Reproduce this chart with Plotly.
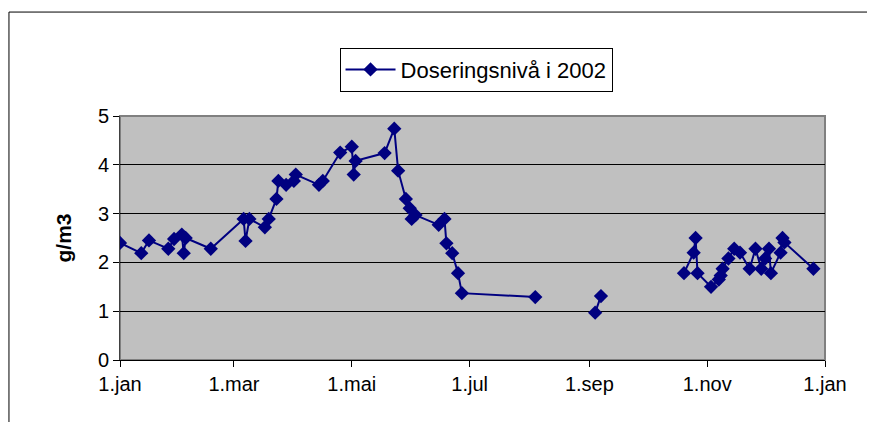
import plotly.graph_objects as go

# Dates of measurements (None rows break the line)
dates = [
    "2002-01-01", "2002-01-12", "2002-01-16", "2002-01-26", "2002-01-29",
    "2002-02-02", "2002-02-03", "2002-02-04", "2002-02-17",
    "2002-03-06", "2002-03-07", "2002-03-09", "2002-03-17", "2002-03-19",
    "2002-03-23", "2002-03-24", "2002-03-28", "2002-04-01", "2002-04-02",
    "2002-04-14", "2002-04-16", "2002-04-25", "2002-05-01", "2002-05-02",
    "2002-05-03", "2002-05-18", "2002-05-23", "2002-05-25", "2002-05-29",
    "2002-05-31", "2002-06-01", "2002-06-03", "2002-06-15", "2002-06-18",
    "2002-06-19", "2002-06-22", "2002-06-25", "2002-06-27", "2002-08-04",
    "2002-08-20",
    "2002-09-04", "2002-09-07",
    "2002-10-01",
    "2002-10-20", "2002-10-25", "2002-10-26", "2002-10-27", "2002-11-03",
    "2002-11-07", "2002-11-08", "2002-11-09", "2002-11-12", "2002-11-15",
    "2002-11-18", "2002-11-23", "2002-11-26", "2002-11-29", "2002-12-01",
    "2002-12-03", "2002-12-04", "2002-12-09", "2002-12-10", "2002-12-11",
    "2002-12-26",
]
values = [
    2.40, 2.19, 2.45, 2.28, 2.48,
    2.57, 2.19, 2.50, 2.28,
    2.89, 2.44, 2.89, 2.72, 2.89,
    3.30, 3.67, 3.59, 3.67, 3.80,
    3.59, 3.67, 4.25, 4.37, 3.80,
    4.08, 4.24, 4.74, 3.88, 3.30,
    3.11, 2.89, 2.97, 2.77, 2.89,
    2.39, 2.19, 1.78, 1.37, 1.29,
    None,
    0.97, 1.31,
    None,
    1.78, 2.20, 2.50, 1.78, 1.50,
    1.65, 1.73, 1.87, 2.08, 2.28,
    2.20, 1.87, 2.28, 1.87, 2.08,
    2.28, 1.78, 2.20, 2.50, 2.41,
    1.87,
]

tick_dates = ["2002-01-01", "2002-03-01", "2002-05-01", "2002-07-01",
              "2002-09-01", "2002-11-01", "2003-01-01"]
tick_labels = ["1.jan", "1.mar", "1.mai", "1.jul", "1.sep", "1.nov", "1.jan"]
series_name = "Doseringsnivå i 2002"

fig = go.Figure()
fig.add_trace(go.Scatter(
    x=dates, y=values, name=series_name, mode="lines+markers",
    connectgaps=False,
    line=dict(color="#000080", width=2),
    marker=dict(symbol="diamond", size=11, color="#000080"),
    showlegend=True,
))

font_family = "Liberation Sans, Arial, sans-serif"

# The page body has an 8px margin, so the figure is sized/offset to compensate
# (and kept small enough that no scrollbars appear).
fig.update_layout(
    width=859, height=414,
    margin=dict(l=112, r=42, t=108, b=62),
    paper_bgcolor="white",
    plot_bgcolor="#C0C0C0",
    font=dict(family=font_family, size=20, color="black"),
    showlegend=True,
    legend=dict(
        x=0.505, y=1.19, xanchor="center", yanchor="middle",
        bgcolor="white", bordercolor="black", borderwidth=1,
        font=dict(size=22), itemwidth=50,
    ),
    xaxis=dict(
        type="date",
        range=["2002-01-01", "2003-01-01"],
        tickvals=tick_dates, ticktext=tick_labels,
        showgrid=False, zeroline=False,
        showline=True, linecolor="black", linewidth=1,
        ticks="outside", ticklen=6, tickcolor="black",
        tickfont=dict(size=20),
    ),
    yaxis=dict(
        range=[0, 5], dtick=1,
        showgrid=True, gridcolor="black", gridwidth=1,
        zeroline=False,
        showline=True, linecolor="#404040", linewidth=1,
        ticks="outside", ticklen=6, tickcolor="black",
        tickfont=dict(size=20),
        title=dict(text="<b>g/m3</b>", font=dict(size=21), standoff=20),
    ),
    shapes=[
        dict(type="rect", xref="paper", yref="paper", x0=0, x1=1, y0=0, y1=1,
             line=dict(color="#808080", width=2), layer="below"),
        dict(type="line", xref="paper", yref="paper",
             x0=-0.1575, x1=1.2, y0=1.426, y1=1.426,
             line=dict(color="black", width=1), layer="below"),
        dict(type="line", xref="paper", yref="paper",
             x0=-0.1575, x1=-0.1575, y0=-0.6, y1=1.426,
             line=dict(color="black", width=1), layer="below"),
    ],
)

fig.write_html("out.html")
